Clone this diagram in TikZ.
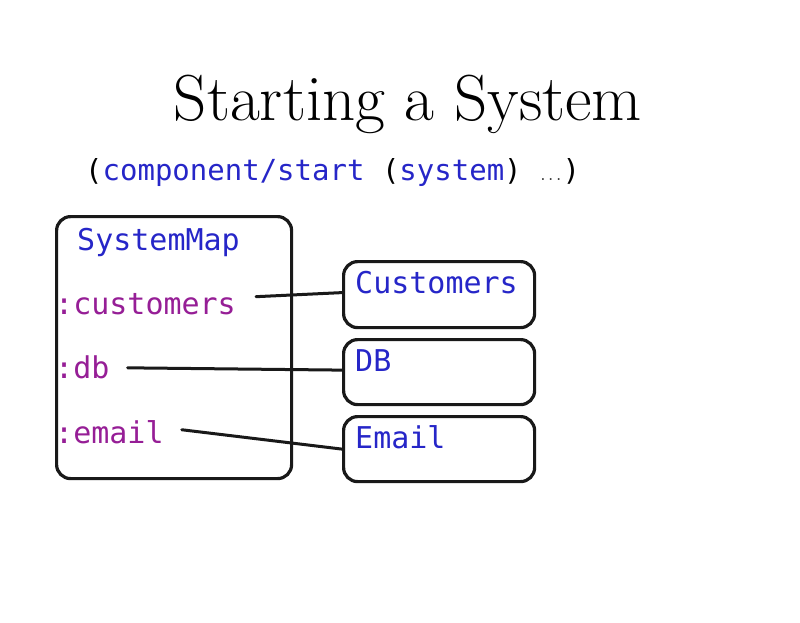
\documentclass[tikz,border=0pt]{standalone}
\usepackage{fontspec}
\setmonofont{DejaVu Sans Mono}
\definecolor{kwblue}{RGB}{38,38,200}
\definecolor{kwpurple}{RGB}{150,30,150}
\tikzset{
  sketchbox/.style={draw=black!90, line width=3.2pt, rounded corners=14pt, inner sep=0pt},
  mono/.style={font=\ttfamily\fontsize{30}{34}\selectfont, inner sep=0pt, anchor=base west},
  link/.style={draw=black!90, line width=3pt, line cap=round}
}
\begin{document}
\begin{tikzpicture}[x=1pt,y=-1pt]
\useasboundingbox (0,0) rectangle (800,622);
\fill[white] (0,0) rectangle (800,622);
% title
\node[anchor=base, inner sep=0pt, font=\fontsize{65}{75}\selectfont] (title) at (408,120) {Starting a System};
% code line
\node[mono, font=\ttfamily\fontsize{29}{34}\selectfont] (code) at (85,180) {(\textcolor{kwblue}{component/start} (\textcolor{kwblue}{system}) {\fontsize{13}{13}\selectfont\textcolor{black!75}{...}})};
% SystemMap box
\node[sketchbox, minimum width=235pt, minimum height=262pt, anchor=north west] (sysmap) at (55,215) {};
\node[mono, text=kwblue] (smlabel) at (77,250) {SystemMap};
\node[mono, text=kwpurple] (kcust) at (55,314) {:customers};
\node[mono, text=kwpurple] (kdb) at (55,378) {:db};
\node[mono, text=kwpurple] (kemail) at (55,443) {:email};
% component boxes
\node[sketchbox, minimum width=191pt, minimum height=66pt, anchor=north west] (bcust) at (342,260) {};
\node[sketchbox, minimum width=191pt, minimum height=65pt, anchor=north west] (bdb) at (342,338) {};
\node[sketchbox, minimum width=191pt, minimum height=65pt, anchor=north west] (bemail) at (342,415) {};
\node[mono, text=kwblue] (tcust) at (355,293) {Customers};
\node[mono, text=kwblue] (tdb) at (355,371) {DB};
\node[mono, text=kwblue] (temail) at (355,448) {Email};
% connectors
\draw[link] ([xshift=20pt,yshift=7pt]kcust.east) -- ([yshift=2pt]bcust.west);
\draw[link] ([xshift=18pt,yshift=-1pt]kdb.east) -- ([yshift=2pt]bdb.west);
\draw[link] ([xshift=18pt,yshift=2pt]kemail.east) -- (bemail.west);
\end{tikzpicture}
\end{document}
